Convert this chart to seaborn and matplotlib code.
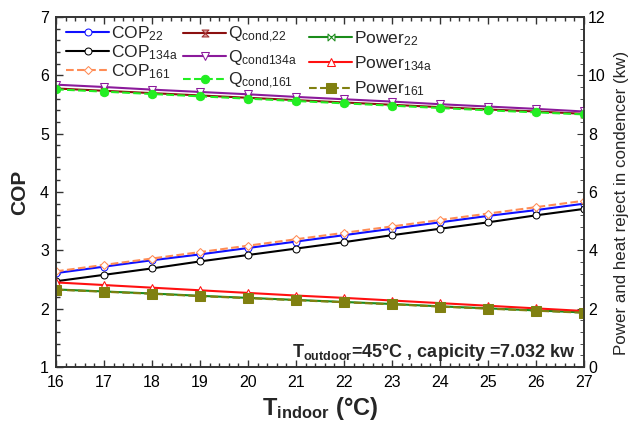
import numpy as np
import pandas as pd
import matplotlib
matplotlib.use("Agg")
import matplotlib.pyplot as plt
from matplotlib.path import Path
from matplotlib.ticker import MultipleLocator
import seaborn as sns

# ---- data ----
t_indoor = [16, 17, 18, 19, 20, 21, 22, 23, 24, 25, 26, 27]
cop_22 = [2.61, 2.72, 2.83, 2.93, 3.04, 3.15, 3.26, 3.37, 3.48, 3.59, 3.69, 3.80]
cop_134a = [2.47, 2.58, 2.69, 2.81, 2.92, 3.03, 3.14, 3.26, 3.37, 3.48, 3.60, 3.71]
cop_161 = [2.64, 2.75, 2.86, 2.97, 3.08, 3.19, 3.30, 3.41, 3.52, 3.63, 3.74, 3.85]
qcond_22 = [9.55, 9.47, 9.39, 9.31, 9.23, 9.15, 9.07, 8.99, 8.91, 8.83, 8.76, 8.68]
qcond_134a = [9.68, 9.60, 9.51, 9.43, 9.35, 9.26, 9.18, 9.10, 9.01, 8.93, 8.85, 8.76]
qcond_161 = [9.52, 9.44, 9.36, 9.28, 9.20, 9.12, 9.04, 8.96, 8.88, 8.80, 8.73, 8.66]
power_22 = [2.66, 2.59, 2.52, 2.44, 2.37, 2.30, 2.23, 2.16, 2.08, 2.01, 1.94, 1.87]
power_134a = [2.90, 2.81, 2.72, 2.63, 2.54, 2.45, 2.37, 2.28, 2.19, 2.10, 2.01, 1.92]
power_161 = [2.65, 2.58, 2.51, 2.43, 2.36, 2.29, 2.22, 2.15, 2.07, 2.00, 1.93, 1.86]
x_ticks = [16, 17, 18, 19, 20, 21, 22, 23, 24, 25, 26, 27]

sns.set_style("ticks")
plt.rcParams["font.family"] = ["Liberation Sans", "DejaVu Sans"]
plt.rcParams["mathtext.default"] = "regular"

fig = plt.figure(figsize=(6.3, 4.41), dpi=100)
ax = fig.add_axes([56/630, 1-367/441, (584-56)/630, (367-17)/441])
ax2 = ax.twinx()

hourglass = Path([(-1, 1), (1, 1), (-1, -1), (1, -1), (-1, 1)],
                 [Path.MOVETO, Path.LINETO, Path.LINETO, Path.LINETO, Path.CLOSEPOLY])
bowtie = Path([(-1, 1), (1, -1), (1, 1), (-1, -1), (-1, 1)],
              [Path.MOVETO, Path.LINETO, Path.LINETO, Path.LINETO, Path.CLOSEPOLY])

lw = 1.5
ms = 5
# left axis: COP
sns.lineplot(x=t_indoor, y=cop_22, ax=ax, color="#1010ff", lw=lw, marker="o",
             markersize=ms, markerfacecolor="white", markeredgecolor="#1010ff",
             label=r"COP$_{22}$", legend=False)
sns.lineplot(x=t_indoor, y=cop_134a, ax=ax, color="black", lw=lw, marker="o",
             markersize=ms, markerfacecolor="white", markeredgecolor="black",
             label=r"COP$_{134a}$", legend=False)
sns.lineplot(x=t_indoor, y=cop_161, ax=ax, color="#ff8c55", lw=lw, linestyle="--", marker="D",
             markersize=ms-0.5, markerfacecolor="white", markeredgecolor="#ff8c55",
             label=r"COP$_{161}$", legend=False)

# right axis: Q and power
sns.lineplot(x=t_indoor, y=qcond_22, ax=ax2, color="#8b1010", lw=lw, marker=hourglass,
             markersize=ms, markerfacecolor="#e0a0a0", markeredgecolor="#a03030",
             label=r"Q$_{cond{,}22}$", legend=False)
sns.lineplot(x=t_indoor, y=qcond_134a, ax=ax2, color="#8b1a9b", lw=lw, marker="v",
             markersize=ms+0.5, markerfacecolor="white", markeredgecolor="#8b1a9b",
             label=r"Q$_{cond134a}$", legend=False)
sns.lineplot(x=t_indoor, y=qcond_161, ax=ax2, color="#22ee22", lw=lw, linestyle="--", marker="o",
             markersize=ms+1, markerfacecolor="#22ee22", markeredgecolor="#22ee22",
             label=r"Q$_{cond{,}161}$", legend=False)
sns.lineplot(x=t_indoor, y=power_22, ax=ax2, color="#1a8c1a", lw=lw, marker=bowtie,
             markersize=ms, markerfacecolor="white", markeredgecolor="#1a8c1a",
             label=r"Power$_{22}$", legend=False)
sns.lineplot(x=t_indoor, y=power_134a, ax=ax2, color="#ff1010", lw=lw, marker="^",
             markersize=ms+0.5, markerfacecolor="white", markeredgecolor="#ff1010",
             label=r"Power$_{134a}$", legend=False)
sns.lineplot(x=t_indoor, y=power_161, ax=ax2, color="#808010", lw=lw, linestyle="--", marker="s",
             markersize=ms+2, markerfacecolor="#808010", markeredgecolor="#808010",
             label=r"Power$_{161}$", legend=False)

# axes styling
ax.set_xlim(16, 27)
ax.set_ylim(1, 7)
ax2.set_ylim(0, 12)
ax.set_xticks(x_ticks)
ax.xaxis.set_minor_locator(MultipleLocator(0.2))
ax.yaxis.set_major_locator(MultipleLocator(1))
ax.yaxis.set_minor_locator(MultipleLocator(0.2))
ax2.yaxis.set_major_locator(MultipleLocator(2))
ax2.yaxis.set_minor_locator(MultipleLocator(0.4))
ax.tick_params(axis="both", which="both", direction="in", top=True, right=False,
               labelsize=11.5, width=1, colors="#333333", labelcolor="black")
ax.tick_params(axis="x", pad=6)
ax.tick_params(axis="y", pad=5)
ax.tick_params(which="major", length=5)
ax.tick_params(which="minor", length=3)
ax2.tick_params(axis="y", which="both", direction="in", labelsize=11.5, colors="#333333",
                labelcolor="black", pad=3)
ax2.tick_params(which="major", length=5)
ax2.tick_params(which="minor", length=3)
for a in (ax, ax2):
    for s in a.spines.values():
        s.set_color("#333333")
        s.set_linewidth(1.2)

ax.set_ylabel("COP", fontsize=15, fontweight="bold", labelpad=8)
ax2.set_ylabel("Power and heat reject in condencer (kw)", fontsize=12.2)
ax2.yaxis.set_label_coords(1.056, 0.47)
ax.set_xlabel(r"T$_{indoor}$ (°C)", fontsize=17, fontweight="bold", labelpad=3)

ax.text(20.92, 1.25, r"T$_{outdoor}$=45°C , capicity =7.032 kw", fontsize=13,
        fontweight="bold", ha="left", va="center")

# legends (three columns)
lines1 = ax.get_lines()
lines2 = ax2.get_lines()
leg_kw = dict(frameon=False, fontsize=12.5, handlelength=2.5, handletextpad=0.08,
              borderpad=0, borderaxespad=0, loc="upper left")
l1 = fig.legend(handles=lines1[:3], labels=[l.get_label() for l in lines1[:3]],
                bbox_to_anchor=(66/630, 1-24/441), labelspacing=0.02, **leg_kw)
l2 = fig.legend(handles=lines2[:3], labels=[l.get_label() for l in lines2[:3]],
                bbox_to_anchor=(183/630, 1-25/441), labelspacing=0.18, **leg_kw)
l3 = fig.legend(handles=lines2[3:], labels=[l.get_label() for l in lines2[3:]],
                bbox_to_anchor=(309/630, 1-29/441), labelspacing=0.38, **leg_kw)

fig.savefig("out.png", dpi=100)
